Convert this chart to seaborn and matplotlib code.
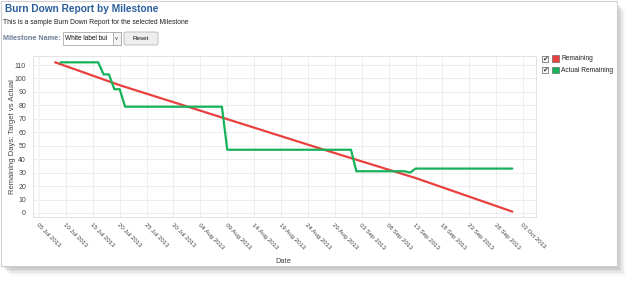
import matplotlib
matplotlib.use("Agg")
import matplotlib.pyplot as plt
import matplotlib.dates as mdates
from matplotlib.patches import Rectangle, FancyBboxPatch
import numpy as np
import pandas as pd
import seaborn as sns

# ---- data ----
remaining_dates = ["2013-07-08", "2013-07-20", "2013-08-08", "2013-08-27", "2013-09-13", "2013-10-01"]
remaining_values = [112, 95, 71, 47, 26, 1]

actual_dates = ["2013-07-09", "2013-07-16", "2013-07-17", "2013-07-18", "2013-07-19", "2013-07-20",
                "2013-07-21", "2013-08-08", "2013-08-09", "2013-09-01", "2013-09-02", "2013-09-11",
                "2013-09-12", "2013-09-13", "2013-10-01"]
actual_values = [112, 112, 103, 103, 92, 92, 79, 79, 47, 47, 31, 31, 30, 33, 33]

series_names = ["Remaining", "Actual Remaining"]
series_colors = ["#e8403f", "#16b25a"]
y_ticks = list(range(0, 111, 10))
x_tick_dates = pd.date_range("2013-07-05", "2013-10-03", freq="5D")

title = "Burn Down Report by Milestone"
subtitle = "This is a sample Burn Down Report for the selected Milestone"

df = pd.concat([
    pd.DataFrame({"Date": pd.to_datetime(remaining_dates), "Value": remaining_values, "Series": series_names[0]}),
    pd.DataFrame({"Date": pd.to_datetime(actual_dates), "Value": actual_values, "Series": series_names[1]}),
])

sns.set_theme(style="whitegrid")
plt.rcParams["font.family"] = ["Liberation Sans", "DejaVu Sans"]

W, H = 633, 282
fig = plt.figure(figsize=(W / 100, H / 100), dpi=100)
fig.patch.set_facecolor("white")

def fx(x):
    return x / W

def fy(y):
    return 1 - y / H

# card shadow + card
for i, a in enumerate([0.05, 0.05, 0.05, 0.04, 0.03, 0.02]):
    off = 2 + i * 1.5
    fig.patches.append(Rectangle((fx(1 + off), fy(266 + off)), fx(616 - 1), (266 - 1) / H,
                                 transform=fig.transFigure, facecolor="black", alpha=a,
                                 edgecolor="none", zorder=0))
fig.patches.append(Rectangle((fx(1), fy(266)), fx(616), (266 - 1) / H,
                             transform=fig.transFigure, facecolor="white",
                             edgecolor="#cfcfcf", linewidth=0.8, zorder=1))

ax = fig.add_axes([fx(33), fy(217), fx(536 - 33), (217 - 56) / H])
ax.set_zorder(3)
sns.lineplot(data=df, x="Date", y="Value", hue="Series", palette=series_colors,
             ax=ax, linewidth=1.6, legend=False, estimator=None, sort=True)

x0 = mdates.date2num(pd.Timestamp("2013-07-05"))
ax.set_xlim(x0 - 1.12, x0 + 92.4)
ax.set_ylim(-3, 116.7)
ax.set_yticks(y_ticks)
ax.set_xticks(mdates.date2num(x_tick_dates))
ax.set_xticklabels([d.strftime("%d %b %Y") for d in x_tick_dates], rotation=-45,
                   ha="left", va="top", rotation_mode="anchor")
ax.tick_params(axis="x", labelsize=4.4, colors="#444444", pad=4, length=0)
ax.tick_params(axis="y", labelsize=5.0, colors="#444444", pad=3, length=2, color="#dddddd")
ax.grid(True, color="#ebebeb", linewidth=0.6)
for s in ax.spines.values():
    s.set_color("#dedede")
    s.set_linewidth(0.6)
ax.set_facecolor("white")
ax.set_xlabel("Date", fontsize=5.4, color="#444444")
ax.set_ylabel("Remaining Days: Target vs Actual", fontsize=5.5, color="#444444")
ax.xaxis.set_label_coords(0.497, -0.255)
ax.yaxis.set_label_coords(-0.034, 0.497)

# header texts
fig.text(fx(5), fy(9.5), title, fontsize=7.3, fontweight="bold", color="#2a5e9c",
         va="center", ha="left", zorder=5)
fig.text(fx(3), fy(22), subtitle, fontsize=4.9, color="#222222", va="center", ha="left", zorder=5)
fig.text(fx(3), fy(39), "Milestone Name:", fontsize=5.2, fontweight="bold", color="#6b7d95",
         va="center", ha="left", zorder=5)
# dropdown
fig.patches.append(Rectangle((fx(63), fy(45)), fx(121 - 63), 13 / H, transform=fig.transFigure,
                             facecolor="white", edgecolor="#a9a9a9", linewidth=0.6, zorder=4))
fig.patches.append(Rectangle((fx(112.5), fy(45)), fx(121 - 112.5), 13 / H, transform=fig.transFigure,
                             facecolor="#f3f3f3", edgecolor="#a9a9a9", linewidth=0.6, zorder=4))
fig.text(fx(65), fy(38.6), "White label bui", fontsize=4.7, color="#111111", va="center", ha="left", zorder=5)
fig.text(fx(116.8), fy(38.6), "v", fontsize=4.2, color="#444444", va="center", ha="center", zorder=5)
# reset button
fig.patches.append(FancyBboxPatch((fx(124), fy(45)), fx(158 - 124), 13 / H,
                                  boxstyle="round,pad=0,rounding_size=0.004", transform=fig.transFigure,
                                  facecolor="#eeeeee", edgecolor="#b5b5b5", linewidth=0.6, zorder=4))
fig.text(fx(141), fy(38.6), "Reset", fontsize=4.5, color="#111111", va="center", ha="center", zorder=5)

# legend (custom, right of the plot)
for i, (name, col) in enumerate(zip(series_names, series_colors)):
    yc = 58.8 + i * 11.5
    fig.patches.append(Rectangle((fx(542), fy(yc + 3)), fx(6), 6 / H, transform=fig.transFigure,
                                 facecolor="white", edgecolor="#777777", linewidth=0.6, zorder=4))
    fig.text(fx(545.5), fy(yc - 0.5), "\u2714", fontsize=5, color="#333333", va="center",
             ha="center", zorder=5, family=["DejaVu Sans"])
    fig.patches.append(Rectangle((fx(552), fy(yc + 3)), fx(7), 6.5 / H, transform=fig.transFigure,
                                 facecolor=col, edgecolor="#555555", linewidth=0.4, zorder=4))
    fig.text(fx(561), fy(yc), name, fontsize=4.8, color="#222222", va="center", ha="left", zorder=5)

fig.savefig("out.png", dpi=100)
